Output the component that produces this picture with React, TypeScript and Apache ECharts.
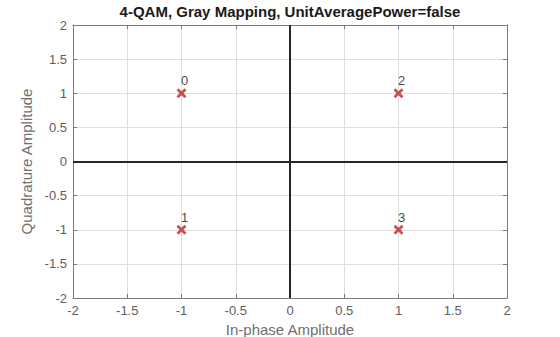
import React, { useEffect, useRef } from "react";
import * as echarts from "echarts";

const titleText = "4-QAM, Gray Mapping, UnitAveragePower=false";
const xName = "In-phase Amplitude";
const yName = "Quadrature Amplitude";
const inPhase = [-1, -1, 1, 1];
const quadrature = [1, -1, 1, -1];
const symbolLabels = ["0", "1", "2", "3"];
const axisMin = -2;
const axisMax = 2;
const tickStep = 0.5;

const FONT = "Liberation Sans, Arial, sans-serif";
const X_SYMBOL =
  "path://M0,2 L2,0 L5,3 L8,0 L10,2 L7,5 L10,8 L8,10 L5,7 L2,10 L0,8 L3,5 Z";

export default function App() {
  const ref = useRef<HTMLDivElement>(null);
  useEffect(() => {
    if (!ref.current) return;
    const chart = echarts.init(ref.current, undefined, { renderer: "svg" });
    const fmt = (v: number) => String(v);
    const baseAxis = (pos: string, show: boolean, name?: string) => ({
      type: "value",
      position: pos,
      min: axisMin,
      max: axisMax,
      interval: tickStep,
      name: name,
      nameLocation: "middle",
      nameTextStyle: { color: "#707070", fontSize: 15, fontFamily: FONT },
      axisLine: { show: true, onZero: false, lineStyle: { color: "#7a7a7a", width: 1 } },
      axisTick: { show: true, inside: true, length: 4, lineStyle: { color: "#7a7a7a" } },
      axisLabel: {
        show,
        color: "#606060",
        fontSize: 13,
        fontFamily: FONT,
        formatter: fmt,
        margin: 6,
      },
      splitLine: { show: show, lineStyle: { color: "#dedede", width: 1 } },
    });
    const data = inPhase.map((x, i) => [x, quadrature[i], symbolLabels[i]]);
    chart.setOption({
      animation: false,
      backgroundColor: "#ffffff",
      title: {
        text: titleText,
        left: 290,
        textAlign: "center",
        top: 4,
        padding: 0,
        textStyle: { color: "#1a1a1a", fontSize: 15, fontWeight: "bold", fontFamily: FONT },
      },
      grid: {
        left: 73,
        right: 53,
        top: 25,
        bottom: 39,
        containLabel: false,
        outerBoundsMode: "none",
      },
      xAxis: [
        { ...baseAxis("bottom", true, xName), nameGap: 22 },
        { ...baseAxis("top", false) },
      ],
      yAxis: [
        { ...baseAxis("left", true, yName), nameGap: 32 },
        { ...baseAxis("right", false) },
      ],
      series: [
        {
          type: "scatter",
          data,
          symbol: X_SYMBOL,
          symbolSize: 10,
          itemStyle: { color: "#b8292a" },
          label: {
            show: true,
            position: "top",
            offset: [3, 4],
            formatter: (p: any) => p.data[2],
            color: "#111",
            fontSize: 13,
            fontFamily: FONT,
          },
          markLine: {
            silent: true,
            symbol: "none",
            label: { show: false },
            lineStyle: { color: "#262626", width: 2, type: "solid" },
            data: [{ xAxis: 0 }, { yAxis: 0 }],
          },
          z: 5,
        },
      ],
    });
    return () => chart.dispose();
  }, []);
  return (
    <div
      ref={ref}
      style={{ position: "fixed", left: 0, top: 0, width: 560, height: 337 }}
    />
  );
}
